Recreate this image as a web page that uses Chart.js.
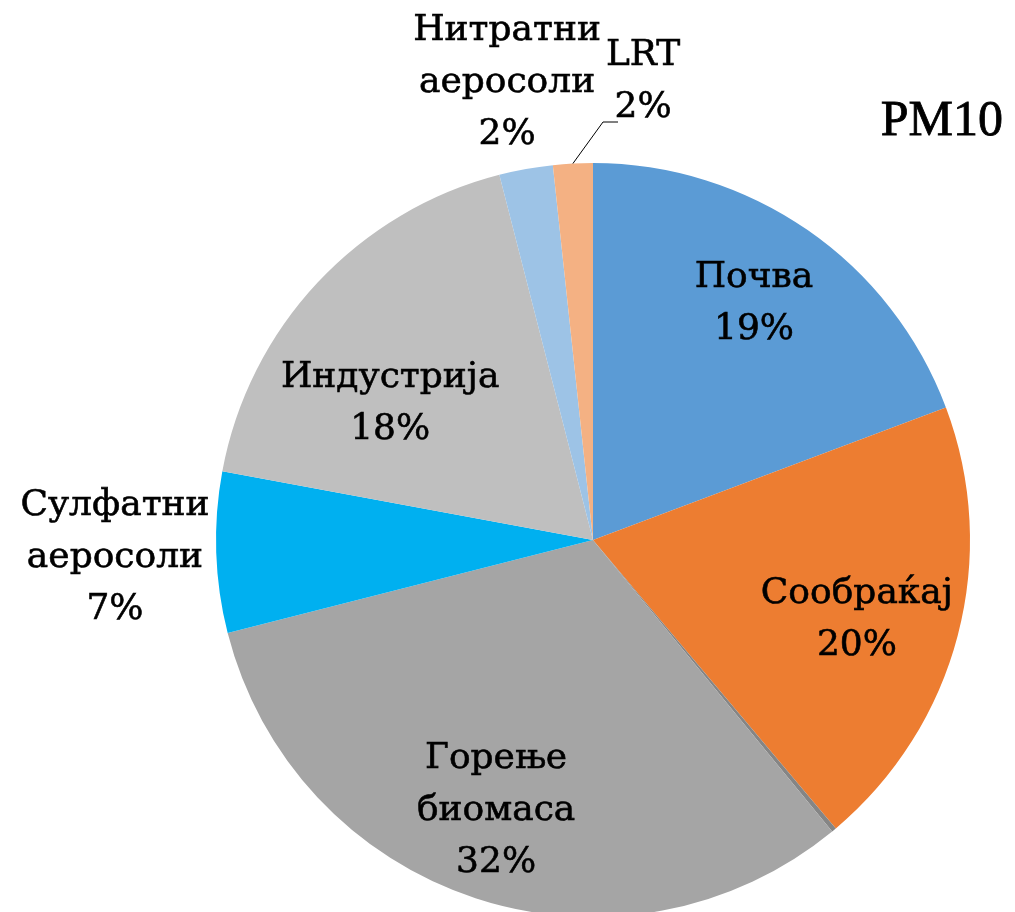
<!DOCTYPE html>
<html>
<head>
<meta charset="utf-8">
<script src="https://cdn.jsdelivr.net/npm/chart.js@4.4.0/dist/chart.umd.min.js"></script>
<style>
  body { margin: 0; background: #fff; }
</style>
</head>
<body>
<canvas id="myChart" width="1015" height="912"></canvas>
<script>
//chart data
var chartTitle = 'PM10';
var categories = ['Почва', 'Сообраќај', 'Останато', 'Горење биомаса', 'Сулфатни аеросоли', 'Индустрија', 'Нитратни аеросоли', 'LRT'];
var values = [19.3, 19.6, 0.2, 32.0, 6.9, 18.1, 2.3, 1.7];
var sliceColors = ['#5B9BD5', '#ED7D31', '#858585', '#A5A5A5', '#00B0F0', '#BFBFBF', '#9DC3E6', '#F4B183'];

//label lines per slice (category name split like in the original)
var labelLines = [['Почва'], ['Сообраќај'], [], ['Горење', 'биомаса'], ['Сулфатни', 'аеросоли'], ['Индустрија'], ['Нитратни', 'аеросоли'], ['LRT']];

//label anchor (center x, first baseline) as offset from pie center, in radius units
var labelAnchor = [
	[0.427, -0.671],
	[0.700, 0.167],
	null,
	[-0.257, 0.605],
	[-1.268, -0.066],
	[-0.538, -0.406],
	[-0.228, -1.326],
	[0.133, -1.260]
];

var labelFont = '36px "DejaVu Serif", serif';
var titleFont = '50px "Liberation Serif", serif';

//filled text with a thin outline so it looks as heavy as the original
function boldText(ctx, text, x, y, w) {
	ctx.fillText(text, x, y);
	ctx.lineWidth = w;
	ctx.strokeText(text, x, y);
}

//draw labels, leader line and title
var labelPlugin = {
	id: 'pieLabels',
	afterDraw: function(chart) {
		var ctx = chart.ctx;
		var meta = chart.getDatasetMeta(0);
		var total = values.reduce(function(a, b) { return a + b; }, 0);

		ctx.save();
		ctx.fillStyle = '#000';
		ctx.strokeStyle = '#000';
		ctx.textAlign = 'center';
		ctx.textBaseline = 'alphabetic';
		ctx.font = labelFont;

		for (var i = 0; i < meta.data.length; i++) {
			if (!labelAnchor[i]) continue;
			var arc = meta.data[i];
			var r = arc.outerRadius;
			var x = arc.x + labelAnchor[i][0] * r;
			var y = arc.y + labelAnchor[i][1] * r;
			var lines = labelLines[i].concat([Math.round(values[i] / total * 100) + '%']);
			for (var j = 0; j < lines.length; j++) {
				boldText(ctx, lines[j], x, y + j * 52, 0.6);
			}
		}

		//leader line for LRT
		var lrt = meta.data[7];
		var mid = (lrt.startAngle + lrt.endAngle) / 2;
		var px = lrt.x + Math.cos(mid) * lrt.outerRadius;
		var py = lrt.y + Math.sin(mid) * lrt.outerRadius;
		ctx.lineWidth = 1;
		ctx.beginPath();
		ctx.moveTo(px, py);
		ctx.lineTo(lrt.x + 10, lrt.y - 418);
		ctx.lineTo(lrt.x + 25, lrt.y - 418);
		ctx.stroke();

		//title
		ctx.textAlign = 'right';
		ctx.font = titleFont;
		boldText(ctx, chartTitle, 1003, 135, 0.8);
		ctx.restore();
	}
};

var ctx = document.getElementById('myChart');

var myPieChart = new Chart(ctx, {
	type: 'pie',
	data: {
		labels: categories,
		datasets: [
			{
				data: values,
				backgroundColor: sliceColors,
				borderWidth: 0,
				radius: 377
			}
		]
	},
	options: {
		responsive: false,
		animation: false,
		layout: {
			padding: { left: 171, right: 0, top: 168, bottom: 0 }
		},
		plugins: {
			legend: { display: false },
			tooltip: { enabled: false }
		}
	},
	plugins: [labelPlugin]
});
</script>
</body>
</html>
